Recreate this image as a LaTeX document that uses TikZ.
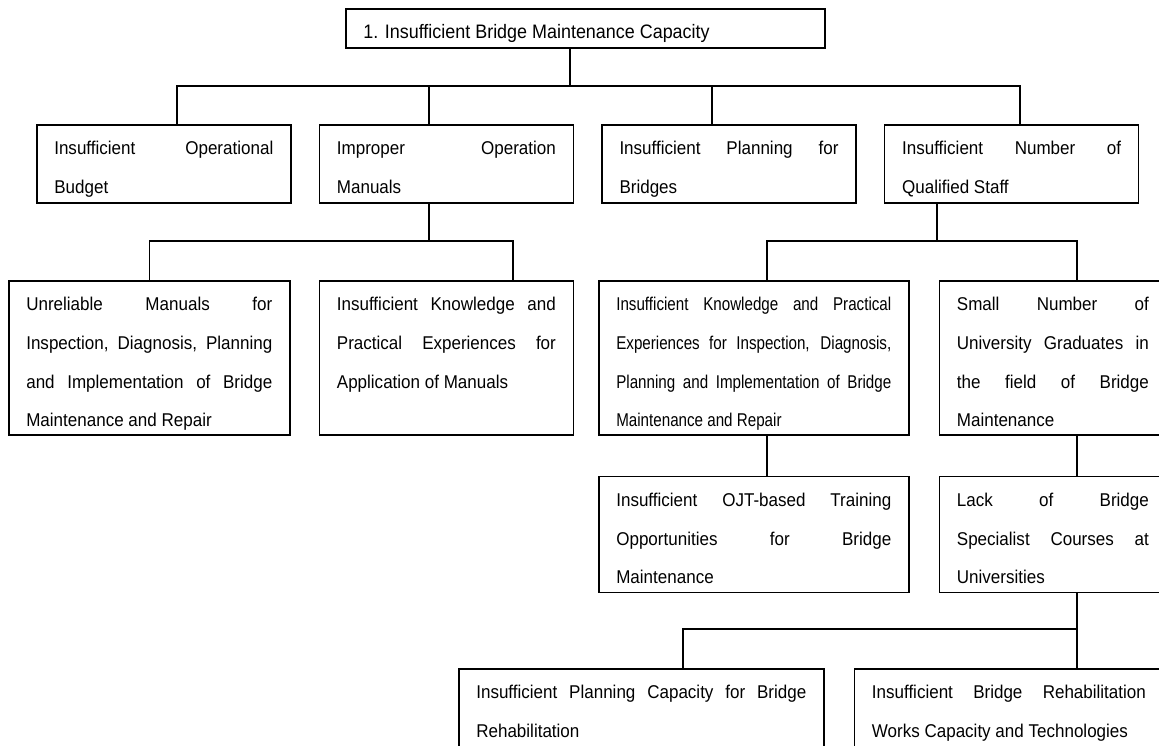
\documentclass[tikz,border=0pt]{standalone}
\usepackage{fontspec}
\setmainfont{Liberation Sans}[FakeStretch=0.92]
\newfontfamily\narrowfont{Liberation Sans}[FakeStretch=0.82]
\usetikzlibrary{positioning}
\hyphenpenalty=10000
% fixed size text block: [font size] width, height, text (first baseline 30pt below top)
\newcommand{\boxtext}[4][18.5pt]{\parbox[b][#3][t]{#2}{\fontsize{#1}{38.7pt}\selectfont
  \tolerance=10000\hbadness=10000\rule{0pt}{30pt}#4}}

\begin{document}
\begin{tikzpicture}[x=1pt,y=-1pt,
	cause/.style = {draw, line width=1.6pt, inner xsep=17.5pt, inner ysep=0pt},
	link/.style = {line width=1.6pt}]
	\useasboundingbox (0,0) rectangle (1159,745);
	\clip (0,0) rectangle (1159,745);

	\node[cause,anchor=north west] (top) at (345,8) {\boxtext[19.5pt]{444pt}{39pt}{1. Insufficient Bridge Maintenance Capacity}};

	% second level
	\node[cause,anchor=north west] (budget) at (36,124) {\boxtext{219pt}{78pt}{Insufficient Operational\linebreak Budget}};
	\node[cause] [right=27pt of budget] (manuals) {\boxtext{219pt}{78pt}{Improper Operation\linebreak Manuals}};
	\node[cause] [right=27pt of manuals] (planning) {\boxtext{219pt}{78pt}{Insufficient Planning for\linebreak Bridges}};
	\node[cause] [right=27pt of planning] (staff) {\boxtext{219pt}{78pt}{Insufficient Number of\linebreak Qualified Staff}};

	% under the manuals
	\node[cause,anchor=north west] (unreliable) at (8,280) {\boxtext{246pt}{154pt}{Unreliable Manuals for\linebreak Inspection, Diagnosis, Planning\linebreak and Implementation of Bridge\linebreak Maintenance and Repair}};
	\node[cause] [right=28pt of unreliable] (application) {\boxtext{219pt}{154pt}{Insufficient Knowledge and\linebreak Practical Experiences for\linebreak Application of Manuals}};

	% under the staff
	\node[cause,anchor=north west,font=\narrowfont] (knowledge) at (598,280) {\boxtext{275pt}{154pt}{Insufficient Knowledge and Practical\linebreak Experiences for Inspection, Diagnosis,\linebreak Planning and Implementation of Bridge\linebreak Maintenance and Repair}};
	\node[cause] [right=29pt of knowledge] (graduates) {\boxtext{192pt}{154pt}{Small Number of\linebreak University Graduates in\linebreak the field of Bridge\linebreak Maintenance}};
	\node[cause] [below=40pt of knowledge] (ojt) {\boxtext{275pt}{116pt}{Insufficient OJT-based Training\linebreak Opportunities for Bridge\linebreak Maintenance}};
	\node[cause] [below=40pt of graduates] (courses) {\boxtext{192pt}{116pt}{Lack of Bridge\linebreak Specialist Courses at\linebreak Universities}};

	% bottom row
	\node[cause,anchor=north west] (rehabplan) at (458,668) {\boxtext{330pt}{78pt}{Insufficient Planning Capacity for Bridge\linebreak Rehabilitation}};
	\node[cause] [right=29pt of rehabplan] (works) {\boxtext{274pt}{78pt}{Insufficient Bridge Rehabilitation\linebreak Works Capacity and Technologies}};

	% connectors
	\coordinate (j1) at (570,86);
	\coordinate (j2) at (429,241);
	\coordinate (j3) at (937,241);
	\coordinate (j4) at (1077,629);

	\draw[link] (top.south -| j1) -- (j1);
	\draw[link] (budget.north -| 177,0) |- (j1) -| (staff.north -| 1020,0);
	\draw[link] (manuals.north -| j2) -- (j1 -| j2);
	\draw[link] (planning.north -| 712,0) -- (j1 -| 712,0);

	\draw[link] (manuals.south -| j2) -- (j2);
	\draw[link] (unreliable.north) |- (j2) -| (application.north -| 513,0);

	\draw[link] (staff.south -| j3) -- (j3);
	\draw[link] (knowledge.north -| 767,0) |- (j3) -| (graduates.north -| j4);
	\draw[link] (knowledge.south -| 767,0) -- (ojt.north -| 767,0);
	\draw[link] (graduates.south -| j4) -- (courses.north -| j4);

	\draw[link] (courses.south -| j4) -- (j4);
	\draw[link] (rehabplan.north -| 683,0) |- (j4) -- (works.north -| j4);
\end{tikzpicture}
\end{document}
